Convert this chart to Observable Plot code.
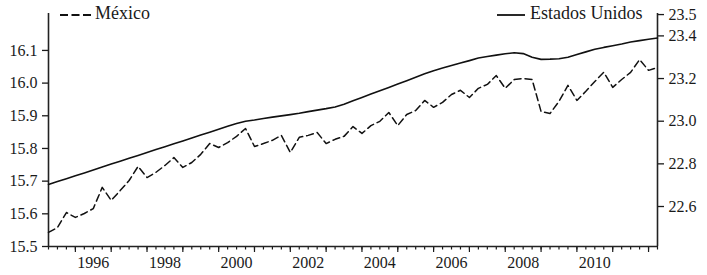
<!DOCTYPE html>
<html><head><meta charset="utf-8">
<script src="https://cdn.jsdelivr.net/npm/d3@7"></script>
<script src="https://cdn.jsdelivr.net/npm/@observablehq/plot@0.6"></script>
<style>
html,body{margin:0;padding:0;background:#fff;}
#wrap{position:relative;width:707px;height:275px;font-family:"Liberation Serif",serif;color:#1a1a1a;}
.lt{position:absolute;font-size:18px;line-height:1;white-space:nowrap;}
.ls{position:absolute;}
</style></head><body>
<div id="wrap"></div>
<script>
// Quarterly series, first value = 1995 Q1, last = 2012 Q1
const startYear = 1995;
const mexico = [
  15.543, 15.558, 15.604, 15.589, 15.601, 15.616, 15.681, 15.641,
  15.671, 15.702, 15.745, 15.711, 15.727, 15.748, 15.772, 15.742,
  15.757, 15.782, 15.815, 15.803, 15.818, 15.837, 15.861, 15.806,
  15.815, 15.825, 15.840, 15.788, 15.834, 15.840, 15.849, 15.815,
  15.828, 15.837, 15.867, 15.846, 15.870, 15.883, 15.910, 15.870,
  15.904, 15.916, 15.947, 15.926, 15.941, 15.965, 15.978, 15.956,
  15.984, 15.996, 16.023, 15.984, 16.011, 16.014, 16.011, 15.913,
  15.907, 15.944, 15.993, 15.947, 15.975, 16.005, 16.033, 15.987,
  16.011, 16.033, 16.072, 16.039, 16.048
];
const estadosUnidos = [
  22.703, 22.717, 22.730, 22.744, 22.757, 22.771, 22.785, 22.799,
  22.812, 22.826, 22.839, 22.853, 22.867, 22.880, 22.894, 22.907,
  22.921, 22.935, 22.948, 22.962, 22.976, 22.989, 23.000, 23.006,
  23.013, 23.019, 23.025, 23.031, 23.037, 23.045, 23.052, 23.059,
  23.067, 23.080, 23.096, 23.111, 23.127, 23.143, 23.158, 23.174,
  23.190, 23.206, 23.222, 23.237, 23.249, 23.261, 23.273, 23.284,
  23.296, 23.303, 23.310, 23.316, 23.321, 23.317, 23.300, 23.290,
  23.291, 23.293, 23.300, 23.313, 23.325, 23.337, 23.346, 23.354,
  23.362, 23.371, 23.378, 23.384, 23.390
];
const mexicoTicks = [15.5, 15.6, 15.7, 15.8, 15.9, 16.0, 16.1];
const usTicks = [22.6, 22.8, 23.0, 23.2, 23.4, 23.5];
const yearLabels = [1996, 1998, 2000, 2002, 2004, 2006, 2008, 2010];
const seriesNames = ["México", "Estados Unidos"];

const mxDomain = [15.5, 16.213];
const usDomain = [22.4125, 23.505];

const toLeft = d3.scaleLinear().domain(usDomain).range(mxDomain);
const data = mexico.map((v, i) => ({
  t: startYear + (i + 1) / 4,
  mx: v,
  us: toLeft(estadosUnidos[i])
}));
const xDomain = [data[0].t, data[data.length - 1].t];
const quarterTicks = data.map(d => d.t);
const yearTicks = d3.range(Math.ceil(xDomain[0]), Math.floor(xDomain[1]) + 1);

const chart = Plot.plot({
  width: 707, height: 275,
  marginLeft: 48, marginRight: 50, marginTop: 13, marginBottom: 29,
  style: {fontFamily: "'Liberation Serif', serif", fontSize: "16px", color: "#1a1a1a", background: "#fff"},
  x: {domain: xDomain},
  y: {domain: mxDomain},
  marks: [
    Plot.axisY({ticks: mexicoTicks, anchor: "left", tickSize: 6, tickPadding: 5, strokeWidth: 1.3,
      tickFormat: d => d.toFixed(1), label: null}),
    Plot.axisY({ticks: usTicks.map(toLeft), anchor: "right", tickSize: 6, tickPadding: 5, strokeWidth: 1.3,
      tickFormat: d => toLeft.invert(d).toFixed(1), label: null}),
    Plot.axisX({ticks: quarterTicks, tickSize: 3.5, strokeWidth: 1.2, tickFormat: () => "", label: null}),
    Plot.axisX({ticks: yearTicks, tickSize: 6, strokeWidth: 1.2, tickFormat: () => "", label: null}),
    Plot.axisX({ticks: yearLabels.map(y => y + 0.5), tickSize: 0, tickPadding: 10,
      tickFormat: d => String(Math.floor(d)), label: null}),
    Plot.ruleX(xDomain, {stroke: "#222", strokeWidth: 1.6}),
    Plot.ruleY([mxDomain[0]], {stroke: "#222", strokeWidth: 1.6}),
    Plot.line(data, {x: "t", y: "mx", stroke: "#111", strokeWidth: 1.5, strokeDasharray: "7,4"}),
    Plot.line(data, {x: "t", y: "us", stroke: "#111", strokeWidth: 1.6})
  ]
});
const wrap = document.getElementById("wrap");
wrap.appendChild(chart);

function legendItem(name, dashed, lineLeft, lineWidth, textLeft) {
  const ns = "http://www.w3.org/2000/svg";
  const s = document.createElementNS(ns, "svg");
  s.setAttribute("class", "ls");
  s.setAttribute("width", lineWidth);
  s.setAttribute("height", 4);
  s.style.left = lineLeft + "px";
  s.style.top = "13px";
  const l = document.createElementNS(ns, "line");
  l.setAttribute("x1", 0); l.setAttribute("x2", lineWidth);
  l.setAttribute("y1", 2); l.setAttribute("y2", 2);
  l.setAttribute("stroke", "#111");
  l.setAttribute("stroke-width", 1.8);
  if (dashed) l.setAttribute("stroke-dasharray", "8,3.5");
  s.appendChild(l);
  wrap.appendChild(s);
  const t = document.createElement("div");
  t.className = "lt";
  t.textContent = name;
  t.style.left = textLeft + "px";
  t.style.top = "4px";
  wrap.appendChild(t);
}
legendItem(seriesNames[0], true, 60, 31, 95);
legendItem(seriesNames[1], false, 497, 28, 530);
</script>
</body></html>
